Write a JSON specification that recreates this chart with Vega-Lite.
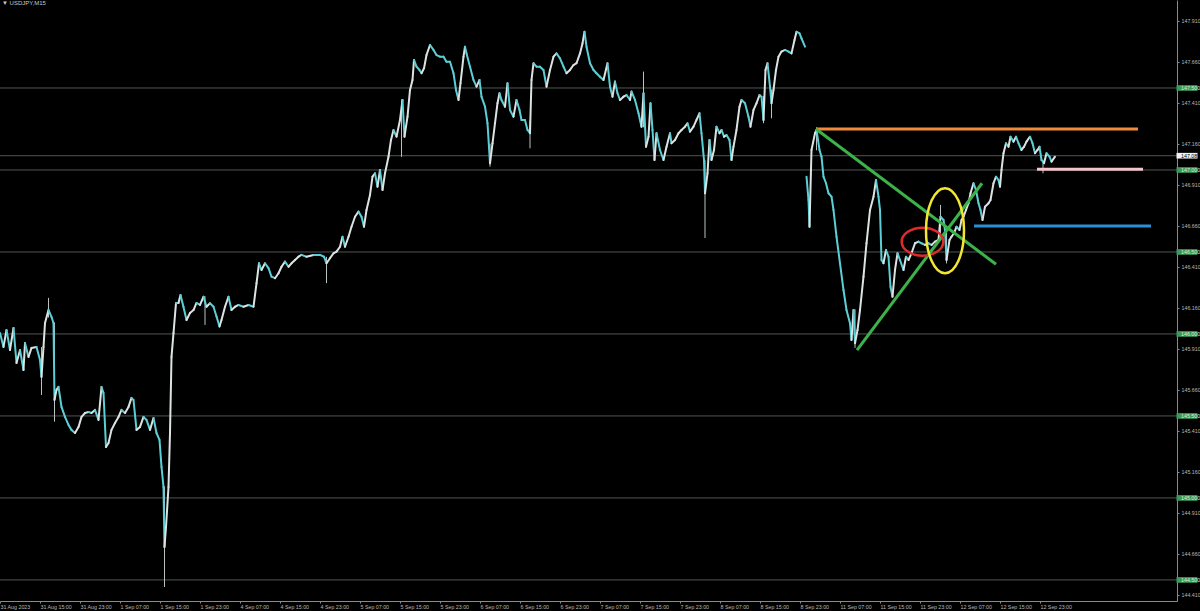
{
  "$schema": "https://vega.github.io/schema/vega-lite/v6.json",
  "width": 1177,
  "height": 601,
  "autosize": {"type": "none"},
  "padding": {"left": 0, "top": 0, "right": 23, "bottom": 10},
  "background": "#000000",
  "config": {
    "view": {"stroke": null},
    "axis": {"grid": false, "labelFont": "Liberation Sans", "labelFontSize": 5.3, "labelColor": "#b8b8b8", "domainColor": "#8a8a8a", "tickColor": "#8a8a8a", "tickSize": 2, "labelPadding": 2}
  },
  "datasets": {
    "price": [
      {"s":1,"t":0,"p":146.006},{"s":1,"t":0.7,"p":145.921},{"s":1,"t":1.3,"p":146.024},{"s":1,"t":2,"p":145.902},{"s":1,"t":2.7,"p":146.037},{"s":1,"t":3.3,"p":145.823},{"s":1,"t":4,"p":145.902},{"s":1,"t":4.7,"p":145.78},{"s":1,"t":5,"p":145.945},{"s":1,"t":5.7,"p":145.86},{"s":1,"t":6.3,"p":145.915},{"s":1,"t":7.3,"p":145.921},{"s":1,"t":8,"p":145.841},{"s":1,"t":8.3,"p":145.738},{"s":1,"t":8.7,"p":145.921},{"s":1,"t":9,"p":146.067},{"s":1,"t":9.7,"p":146.146},{"s":1,"t":10.3,"p":146.104},{"s":1,"t":10.7,"p":146.067},{"s":1,"t":10.9,"p":145.598},{"s":1,"t":11.3,"p":145.659},{"s":1,"t":11.7,"p":145.677},{"s":1,"t":12.3,"p":145.555},{"s":1,"t":13,"p":145.494},{"s":1,"t":13.7,"p":145.445},{"s":1,"t":14.3,"p":145.415},{"s":1,"t":15,"p":145.396},{"s":1,"t":15.7,"p":145.433},{"s":1,"t":16.3,"p":145.494},{"s":1,"t":17,"p":145.518},{"s":1,"t":17.7,"p":145.524},{"s":1,"t":18.3,"p":145.518},{"s":1,"t":19,"p":145.537},{"s":1,"t":19.7,"p":145.476},{"s":1,"t":20.3,"p":145.677},{"s":1,"t":20.7,"p":145.64},{"s":1,"t":21.2,"p":145.311},{"s":1,"t":21.7,"p":145.335},{"s":1,"t":22.3,"p":145.415},{"s":1,"t":23,"p":145.457},{"s":1,"t":23.7,"p":145.494},{"s":1,"t":24.3,"p":145.537},{"s":1,"t":25,"p":145.518},{"s":1,"t":25.7,"p":145.555},{"s":1,"t":26.3,"p":145.61},{"s":1,"t":26.7,"p":145.598},{"s":1,"t":27.3,"p":145.415},{"s":1,"t":28,"p":145.433},{"s":1,"t":28.7,"p":145.494},{"s":1,"t":29.3,"p":145.476},{"s":1,"t":30,"p":145.415},{"s":1,"t":30.7,"p":145.488},{"s":1,"t":31.3,"p":145.396},{"s":1,"t":31.9,"p":145.354},{"s":1,"t":32.3,"p":145.189},{"s":1,"t":32.7,"p":145.067},{"s":1,"t":32.9,"p":144.701},{"s":1,"t":33.2,"p":144.823},{"s":1,"t":33.7,"p":145.067},{"s":1,"t":34,"p":145.396},{"s":1,"t":34.3,"p":145.86},{"s":1,"t":34.7,"p":146.006},{"s":1,"t":35.2,"p":146.189},{"s":1,"t":35.7,"p":146.189},{"s":1,"t":36.1,"p":146.238},{"s":1,"t":36.7,"p":146.165},{"s":1,"t":37.3,"p":146.085},{"s":1,"t":38,"p":146.128},{"s":1,"t":38.7,"p":146.146},{"s":1,"t":39.3,"p":146.189},{"s":1,"t":40,"p":146.177},
      {"s":1,"t":40.7,"p":146.227},{"s":1,"t":41.3,"p":146.166},{"s":1,"t":42,"p":146.187},{"s":1,"t":42.7,"p":146.166},{"s":1,"t":43.3,"p":146.106},{"s":1,"t":43.9,"p":146.045},{"s":1,"t":44.3,"p":146.085},{"s":1,"t":45,"p":146.166},{"s":1,"t":45.7,"p":146.227},{"s":1,"t":46.3,"p":146.146},{"s":1,"t":47,"p":146.166},{"s":1,"t":47.7,"p":146.177},{"s":1,"t":48.7,"p":146.166},{"s":1,"t":49.7,"p":146.177},{"s":1,"t":50.7,"p":146.166},{"s":1,"t":51.3,"p":146.309},{"s":1,"t":51.8,"p":146.431},{"s":1,"t":52.3,"p":146.39},{"s":1,"t":53,"p":146.431},{"s":1,"t":53.7,"p":146.401},{"s":1,"t":54.3,"p":146.35},{"s":1,"t":55,"p":146.34},{"s":1,"t":55.7,"p":146.37},{"s":1,"t":56.3,"p":146.41},{"s":1,"t":57,"p":146.441},{"s":1,"t":57.7,"p":146.41},{"s":1,"t":58.3,"p":146.431},{"s":1,"t":59,"p":146.451},{"s":1,"t":59.7,"p":146.471},{"s":1,"t":60.3,"p":146.482},{"s":1,"t":61.3,"p":146.471},{"s":1,"t":62.7,"p":146.482},{"s":1,"t":64,"p":146.482},{"s":1,"t":64.8,"p":146.471},{"s":1,"t":65.3,"p":146.431},{"s":1,"t":66,"p":146.462},{"s":1,"t":66.7,"p":146.492},{"s":1,"t":67.3,"p":146.502},{"s":1,"t":68,"p":146.532},{"s":1,"t":68.5,"p":146.593},{"s":1,"t":69,"p":146.532},{"s":1,"t":69.7,"p":146.593},{"s":1,"t":70.3,"p":146.654},{"s":1,"t":71,"p":146.715},{"s":1,"t":71.7,"p":146.746},{"s":1,"t":72.3,"p":146.715},{"s":1,"t":72.8,"p":146.654},{"s":1,"t":73.3,"p":146.756},{"s":1,"t":74,"p":146.848},{"s":1,"t":74.5,"p":146.959},{"s":1,"t":75,"p":146.98},{"s":1,"t":75.5,"p":146.898},{"s":1,"t":76,"p":147.0},{"s":1,"t":76.5,"p":146.878},{"s":1,"t":77,"p":146.98},{"s":1,"t":77.7,"p":147.081},{"s":1,"t":78.2,"p":147.183},{"s":1,"t":78.7,"p":147.244},{"s":1,"t":79.3,"p":147.203},{"s":1,"t":80,"p":147.305},{"s":1,"t":80.5,"p":147.427},{"s":1,"t":80.9,"p":147.203},{"s":1,"t":81.5,"p":147.325},{"s":1,"t":82,"p":147.488},
      {"s":1,"t":82.5,"p":147.549},{"s":1,"t":82.8,"p":147.671},{"s":1,"t":83.3,"p":147.63},{"s":1,"t":83.9,"p":147.61},{"s":1,"t":84.3,"p":147.59},{"s":1,"t":84.8,"p":147.62},{"s":1,"t":85.3,"p":147.701},{"s":1,"t":86,"p":147.762},{"s":1,"t":86.7,"p":147.732},{"s":1,"t":87.3,"p":147.701},{"s":1,"t":88,"p":147.691},{"s":1,"t":88.7,"p":147.691},{"s":1,"t":89.3,"p":147.66},{"s":1,"t":90,"p":147.66},{"s":1,"t":90.7,"p":147.59},{"s":1,"t":91.2,"p":147.488},{"s":1,"t":91.7,"p":147.427},{"s":1,"t":92.1,"p":147.529},{"s":1,"t":92.7,"p":147.691},{"s":1,"t":93,"p":147.752},{"s":1,"t":93.3,"p":147.711},{"s":1,"t":94,"p":147.63},{"s":1,"t":94.7,"p":147.549},{"s":1,"t":95.3,"p":147.508},{"s":1,"t":95.9,"p":147.549},{"s":1,"t":96.3,"p":147.447},{"s":1,"t":97,"p":147.386},{"s":1,"t":97.5,"p":147.285},{"s":1,"t":98,"p":147.041},{"s":1,"t":98.5,"p":147.163},{"s":1,"t":99,"p":147.285},{"s":1,"t":99.5,"p":147.407},{"s":1,"t":99.9,"p":147.468},{"s":1,"t":100.3,"p":147.427},{"s":1,"t":101,"p":147.386},{"s":1,"t":101.5,"p":147.529},{"s":1,"t":102,"p":147.366},{"s":1,"t":102.7,"p":147.325},{"s":1,"t":103.3,"p":147.427},{"s":1,"t":103.9,"p":147.366},{"s":1,"t":104.3,"p":147.305},{"s":1,"t":105,"p":147.305},{"s":1,"t":105.5,"p":147.244},{"s":1,"t":106,"p":147.224},{"s":1,"t":106.3,"p":147.549},{"s":1,"t":106.7,"p":147.651},{"s":1,"t":107.3,"p":147.63},{"s":1,"t":108,"p":147.63},{"s":1,"t":108.7,"p":147.61},{"s":1,"t":109.3,"p":147.508},{"s":1,"t":110,"p":147.61},{"s":1,"t":110.7,"p":147.691},{"s":1,"t":111.3,"p":147.711},{"s":1,"t":112,"p":147.681},{"s":1,"t":112.7,"p":147.63},{"s":1,"t":113.3,"p":147.59},{"s":1,"t":114,"p":147.61},{"s":1,"t":114.7,"p":147.64},{"s":1,"t":115.3,"p":147.651},{"s":1,"t":116,"p":147.711},{"s":1,"t":116.5,"p":147.772},{"s":1,"t":116.9,"p":147.843},{"s":1,"t":117.3,"p":147.752},{"s":1,"t":118,"p":147.651},{"s":1,"t":118.7,"p":147.61},{"s":1,"t":119.3,"p":147.59},{"s":1,"t":120,"p":147.569},
      {"s":1,"t":120.7,"p":147.549},{"s":1,"t":121.5,"p":147.651},{"s":1,"t":122,"p":147.508},{"s":1,"t":122.5,"p":147.447},{"s":1,"t":123,"p":147.539},{"s":1,"t":123.5,"p":147.468},{"s":1,"t":124,"p":147.427},{"s":1,"t":124.7,"p":147.447},{"s":1,"t":125.3,"p":147.457},{"s":1,"t":126,"p":147.427},{"s":1,"t":126.3,"p":147.478},{"s":1,"t":127,"p":147.427},{"s":1,"t":127.7,"p":147.346},{"s":1,"t":128.3,"p":147.264},{"s":1,"t":128.7,"p":147.468},{"s":1,"t":129.2,"p":147.142},{"s":1,"t":129.7,"p":147.203},{"s":1,"t":130.1,"p":147.407},{"s":1,"t":130.5,"p":147.244},{"s":1,"t":130.9,"p":147.061},{"s":1,"t":131.3,"p":147.224},{"s":1,"t":132,"p":147.122},{"s":1,"t":132.7,"p":147.061},{"s":1,"t":133.3,"p":147.142},{"s":1,"t":134,"p":147.224},{"s":1,"t":134.3,"p":147.163},{"s":1,"t":135,"p":147.183},{"s":1,"t":135.7,"p":147.224},{"s":1,"t":136.3,"p":147.244},{"s":1,"t":137,"p":147.264},{"s":1,"t":137.5,"p":147.285},{"s":1,"t":138,"p":147.234},{"s":1,"t":138.7,"p":147.264},{"s":1,"t":139.3,"p":147.305},{"s":1,"t":139.9,"p":147.346},{"s":1,"t":140.3,"p":147.224},{"s":1,"t":140.8,"p":147.061},{"s":1,"t":141,"p":146.858},{"s":1,"t":141.5,"p":146.98},{"s":1,"t":141.9,"p":147.183},{"s":1,"t":142.3,"p":147.061},{"s":1,"t":142.8,"p":147.122},{"s":1,"t":143.3,"p":147.264},{"s":1,"t":143.9,"p":147.224},{"s":1,"t":144.3,"p":147.244},{"s":1,"t":144.8,"p":147.203},{"s":1,"t":145.3,"p":147.213},{"s":1,"t":145.9,"p":147.183},{"s":1,"t":146.3,"p":147.061},{"s":1,"t":146.7,"p":147.142},{"s":1,"t":147.3,"p":147.244},{"s":1,"t":147.9,"p":147.386},{"s":1,"t":148.3,"p":147.427},{"s":1,"t":149,"p":147.407},{"s":1,"t":149.7,"p":147.325},{"s":1,"t":150.1,"p":147.264},{"s":1,"t":150.7,"p":147.366},{"s":1,"t":151.3,"p":147.407},{"s":1,"t":151.9,"p":147.457},{"s":1,"t":152.3,"p":147.447},{"s":1,"t":152.7,"p":147.305},{"s":1,"t":153.1,"p":147.61},{"s":1,"t":153.5,"p":147.651},{"s":1,"t":154,"p":147.508},{"s":1,"t":154.3,"p":147.407},{"s":1,"t":154.7,"p":147.488},{"s":1,"t":155.2,"p":147.61},{"s":1,"t":155.7,"p":147.691},{"s":1,"t":156.3,"p":147.722},{"s":1,"t":157,"p":147.732},{"s":1,"t":157.7,"p":147.722},{"s":1,"t":158.3,"p":147.711},{"s":1,"t":158.9,"p":147.793},{"s":1,"t":159.3,"p":147.843},{"s":1,"t":159.9,"p":147.833},{"s":1,"t":160.3,"p":147.803},{"s":1,"t":161,"p":147.752},
      {"s":2,"t":161.3,"p":146.959},{"s":2,"t":161.7,"p":146.817},{"s":2,"t":161.9,"p":146.654},{"s":2,"t":162.3,"p":147.122},{"s":2,"t":163,"p":147.224},{"s":2,"t":163.3,"p":147.244},{"s":2,"t":163.9,"p":147.122},{"s":2,"t":164.3,"p":147.081},{"s":2,"t":164.7,"p":146.959},{"s":2,"t":165.2,"p":146.919},{"s":2,"t":165.7,"p":146.858},{"s":2,"t":166.3,"p":146.837},{"s":2,"t":166.7,"p":146.756},{"s":2,"t":167.3,"p":146.593},{"s":2,"t":168,"p":146.431},{"s":2,"t":168.7,"p":146.268},{"s":2,"t":169.3,"p":146.146},{"s":2,"t":170,"p":146.065},{"s":2,"t":170.3,"p":145.963},{"s":2,"t":170.7,"p":146.146},{"s":2,"t":171,"p":145.943},{"s":2,"t":171.5,"p":146.024},{"s":2,"t":172,"p":146.146},{"s":2,"t":172.7,"p":146.35},{"s":2,"t":173.3,"p":146.553},{"s":2,"t":174,"p":146.756},{"s":2,"t":174.7,"p":146.837},{"s":2,"t":175.2,"p":146.939},{"s":2,"t":175.7,"p":146.837},{"s":2,"t":176,"p":146.756},{"s":2,"t":176.3,"p":146.451},{"s":2,"t":176.7,"p":146.431},{"s":2,"t":177.2,"p":146.512},{"s":2,"t":177.7,"p":146.471},{"s":2,"t":178.1,"p":146.288},{"s":2,"t":178.5,"p":146.227},{"s":2,"t":179,"p":146.39},{"s":2,"t":179.5,"p":146.492},{"s":2,"t":180,"p":146.451},{"s":2,"t":180.7,"p":146.39},{"s":2,"t":181.2,"p":146.471},{"s":2,"t":181.7,"p":146.451},{"s":2,"t":182.3,"p":146.492},{"s":2,"t":183,"p":146.553},{"s":2,"t":183.7,"p":146.563},{"s":2,"t":184.3,"p":146.553},{"s":2,"t":185,"p":146.543},{"s":2,"t":185.7,"p":146.553},{"s":2,"t":186.3,"p":146.543},{"s":2,"t":187,"p":146.563},{"s":2,"t":187.7,"p":146.573},{"s":2,"t":188.1,"p":146.715},{"s":2,"t":188.7,"p":146.695},{"s":2,"t":189,"p":146.634},{"s":2,"t":189.3,"p":146.451},{"s":2,"t":189.9,"p":146.573},{"s":2,"t":190.3,"p":146.593},{"s":2,"t":190.8,"p":146.614},{"s":2,"t":191.3,"p":146.654},{"s":2,"t":191.9,"p":146.634},{"s":2,"t":192.3,"p":146.695},{"s":2,"t":192.7,"p":146.715},{"s":2,"t":193.2,"p":146.756},{"s":2,"t":193.7,"p":146.797},{"s":2,"t":194.1,"p":146.858},{"s":2,"t":194.7,"p":146.919},{"s":2,"t":195.2,"p":146.878},{"s":2,"t":195.7,"p":146.797},{"s":2,"t":196.1,"p":146.756},{"s":2,"t":196.5,"p":146.695},{"s":2,"t":197,"p":146.776},{"s":2,"t":197.7,"p":146.797},{"s":2,"t":198.1,"p":146.817},{"s":2,"t":198.7,"p":146.919},{"s":2,"t":199.2,"p":146.959},{"s":2,"t":199.7,"p":146.939},{"s":2,"t":200,"p":146.898},{"s":2,"t":200.3,"p":147.0},{"s":2,"t":200.7,"p":147.102},{"s":2,"t":201.2,"p":147.163},{"s":2,"t":201.7,"p":147.142},{"s":2,"t":202.1,"p":147.203},{"s":2,"t":202.7,"p":147.173},{"s":2,"t":203.2,"p":147.203},{"s":2,"t":203.7,"p":147.163},{"s":2,"t":204.3,"p":147.122},{"s":2,"t":204.8,"p":147.142},{"s":2,"t":205.3,"p":147.173},{"s":2,"t":206,"p":147.203},{"s":2,"t":206.5,"p":147.163},{"s":2,"t":207,"p":147.102},{"s":2,"t":207.5,"p":147.122},{"s":2,"t":207.9,"p":147.142},{"s":2,"t":208.3,"p":147.061},{"s":2,"t":208.8,"p":147.041},{"s":2,"t":209.3,"p":147.102},{"s":2,"t":209.9,"p":147.081},{"s":2,"t":210.3,"p":147.051},{"s":2,"t":211,"p":147.081}
    ],
    "wicks": [
      {"t":9.7,"hi":146.22,"lo":146.1},{"t":8.3,"hi":145.92,"lo":145.628},{"t":10.9,"hi":146.07,"lo":145.465},{"t":32.9,"hi":145.07,"lo":144.457},{"t":41,"hi":146.23,"lo":146.055},{"t":65.3,"hi":146.47,"lo":146.31},{"t":80.3,"hi":147.43,"lo":147.08},{"t":98,"hi":147.16,"lo":147.02},{"t":106,"hi":147.3,"lo":147.132},{"t":128.7,"hi":147.6,"lo":147.26},{"t":141,"hi":147.06,"lo":146.585},{"t":152.7,"hi":147.45,"lo":147.285},{"t":154.3,"hi":147.49,"lo":147.315},{"t":171,"hi":146.15,"lo":145.915},{"t":188.1,"hi":146.787,"lo":146.57},{"t":189.3,"hi":146.63,"lo":146.43},{"t":208.6,"hi":147.06,"lo":146.98},{"t":163.3,"hi":147.26,"lo":147.12}
    ],
    "levels": [
      {"p":147.5,"k":"g"},{"p":147.0,"k":"g"},{"p":146.5,"k":"g"},{"p":146.0,"k":"g"},{"p":145.5,"k":"g"},{"p":145.0,"k":"g"},{"p":144.5,"k":"g"},{"p":147.087,"k":"w"}
    ],
    "draws": [
      {"id":"orange","t1":163.2,"p1":147.25,"t2":227.6,"p2":147.25},
      {"id":"pink","t1":207.4,"p1":147.004,"t2":228.6,"p2":147.004},
      {"id":"blue","t1":194.8,"p1":146.659,"t2":230.2,"p2":146.659},
      {"id":"green1","t1":163.2,"p1":147.25,"t2":199.2,"p2":146.425},
      {"id":"green2","t1":171.4,"p1":145.902,"t2":196.4,"p2":146.919}
    ]
  },
  "layer": [
    {
      "data": {"name": "levels"},
      "mark": {"type": "rule", "color": "#4d5856", "strokeWidth": 1},
      "encoding": {"y": {"field": "p", "type": "quantitative", "title": null}}
    },
    {
      "data": {"name": "wicks"},
      "mark": {"type": "rule", "color": "#b8c2c2", "strokeWidth": 1},
      "encoding": {
        "x": {"field": "t", "type": "quantitative", "title": null},
        "y": {"field": "lo", "type": "quantitative", "title": null},
        "y2": {"field": "hi"}
      }
    },
    {
      "data": {"name": "price"},
      "transform": [
        {"window": [{"op": "lag", "field": "p", "as": "pp"}, {"op": "lag", "field": "t", "as": "tp"}], "groupby": ["s"], "sort": [{"field": "t"}]},
        {"filter": "datum.pp != null"}
      ],
      "mark": {"type": "rule", "strokeWidth": 2, "strokeCap": "round"},
      "encoding": {
        "x": {
          "field": "tp", "type": "quantitative", "title": null,
          "scale": {"domain": [0, 235.4], "nice": false, "zero": false},
          "axis": {
            "orient": "bottom",
            "values": [0,8,16,24,32,40,48,56,64,72,80,88,96,104,112,120,128,136,144,152,160,168,176,184,192,200,208],
            "labelAlign": "left", "labelPadding": 1, "labelBound": false, "labelOverlap": false, "labelFlush": false,
            "labelExpr": "['31 Aug 2023','31 Aug 15:00','31 Aug 23:00','1 Sep 07:00','1 Sep 15:00','1 Sep 23:00','4 Sep 07:00','4 Sep 15:00','4 Sep 23:00','5 Sep 07:00','5 Sep 15:00','5 Sep 23:00','6 Sep 07:00','6 Sep 15:00','6 Sep 23:00','7 Sep 07:00','7 Sep 15:00','7 Sep 23:00','8 Sep 07:00','8 Sep 15:00','8 Sep 23:00','11 Sep 07:00','11 Sep 15:00','11 Sep 23:00','12 Sep 07:00','12 Sep 15:00','12 Sep 23:00'][round(datum.value/8)]"
          }
        },
        "x2": {"field": "t"},
        "y": {
          "field": "pp", "type": "quantitative", "title": null,
          "scale": {"domain": [144.3715, 148.0366], "nice": false, "zero": false},
          "axis": {
            "orient": "right", "format": ".3f", "labelOverlap": false, "labelBound": false, "labelFlush": false,
            "values": [144.41,144.535,144.66,144.785,144.91,145.035,145.16,145.285,145.41,145.535,145.66,145.785,145.91,146.035,146.16,146.285,146.41,146.535,146.66,146.785,146.91,147.035,147.16,147.285,147.41,147.535,147.66,147.785,147.91,148.035]
          }
        },
        "y2": {"field": "p"},
        "color": {"condition": {"test": "datum.p > datum.pp", "value": "#dde3e3"}, "value": "#5ccfd6"}
      }
    },
    {
      "data": {"name": "draws"},
      "mark": {"type": "rule", "strokeWidth": 3},
      "encoding": {
        "x": {"field": "t1", "type": "quantitative", "title": null},
        "x2": {"field": "t2"},
        "y": {"field": "p1", "type": "quantitative", "title": null},
        "y2": {"field": "p2"},
        "color": {"field": "id", "type": "nominal", "legend": null,
          "scale": {"domain": ["orange","pink","blue","green1","green2"], "range": ["#f0893b","#f5c3cd","#2b8fd4","#3cb34a","#3cb34a"]}}
      }
    },
    {
      "data": {"values": [{"t": 184.5, "p": 146.563}]},
      "mark": {"type": "point", "filled": false, "stroke": "#e02a2a", "strokeWidth": 2.5, "opacity": 1, "size": 1731,
        "shape": "M -1 0 A 1 0.673 0 1 0 1 0 A 1 0.673 0 1 0 -1 0 Z"},
      "encoding": {
        "x": {"field": "t", "type": "quantitative", "title": null},
        "y": {"field": "p", "type": "quantitative", "title": null}
      }
    },
    {
      "data": {"values": [{"t": 189, "p": 146.63}]},
      "mark": {"type": "point", "filled": false, "stroke": "#f2e633", "strokeWidth": 2.5, "opacity": 1, "size": 7225,
        "shape": "M -0.447 0 A 0.447 1 0 1 0 0.447 0 A 0.447 1 0 1 0 -0.447 0 Z"},
      "encoding": {
        "x": {"field": "t", "type": "quantitative", "title": null},
        "y": {"field": "p", "type": "quantitative", "title": null}
      }
    },
    {
      "data": {"name": "levels"},
      "mark": {"type": "point", "filled": true, "opacity": 1, "size": 441, "shape": "M -1 -0.27 L 1 -0.27 L 1 0.27 L -1 0.27 Z"},
      "encoding": {
        "x": {"datum": 237.4, "type": "quantitative"},
        "y": {"field": "p", "type": "quantitative", "title": null},
        "color": {"condition": {"test": "datum.k == 'w'", "value": "#f2f2f2"}, "value": "#3a9a5c"}
      }
    },
    {
      "data": {"name": "levels"},
      "mark": {"type": "text", "align": "left", "baseline": "middle", "font": "Liberation Sans", "fontSize": 5.3},
      "encoding": {
        "x": {"datum": 236.2, "type": "quantitative"},
        "y": {"field": "p", "type": "quantitative", "title": null},
        "text": {"field": "p", "type": "quantitative", "format": ".3f"},
        "color": {"condition": {"test": "datum.k == 'w'", "value": "#000000"}, "value": "#d6eed6"}
      }
    },
    {
      "data": {"values": [{"txt": "▼ USDJPY,M15"}]},
      "mark": {"type": "text", "align": "left", "baseline": "middle", "font": "Liberation Sans", "fontSize": 6, "color": "#c8c8c8"},
      "encoding": {
        "x": {"datum": 0.4, "type": "quantitative"},
        "y": {"datum": 148.016, "type": "quantitative"},
        "text": {"field": "txt"}
      }
    }
  ]
}
